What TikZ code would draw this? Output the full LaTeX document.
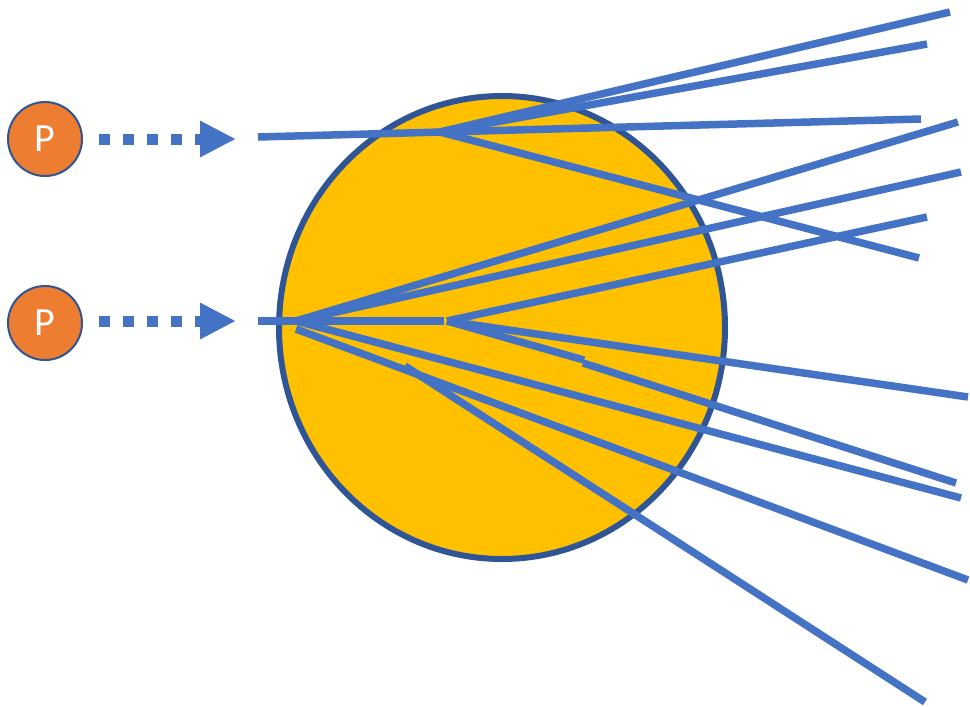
\documentclass[tikz,border=0pt]{standalone}
\usepackage{fontspec}
\setmainfont{Carlito}
\usetikzlibrary{arrows.meta}
\definecolor{rayblue}{HTML}{4472C4}
\definecolor{darkedge}{HTML}{2F5597}
\definecolor{porange}{HTML}{ED7D31}
\definecolor{nucleus}{HTML}{FFC000}
\tikzset{
  ray/.style={draw=rayblue, line width=7.5pt},
  proton/.style={circle, fill=porange, draw=darkedge, line width=2pt, minimum size=74pt, inner sep=0pt, text=white, font=\fontsize{40}{40}\selectfont},
  beam/.style={draw=rayblue, line width=11pt, dash pattern=on 11pt off 13pt, -{Triangle[length=36pt,width=34pt]}, shorten <=16pt},
}
\begin{document}
\begin{tikzpicture}[x=1pt,y=-1pt]
\useasboundingbox (0,0) rectangle (970,707);
% nucleus
\draw[fill=nucleus, draw=darkedge, line width=6pt] (502,327.5) ellipse [x radius=223, y radius=231.5];
% protons and beams
\node[proton] (p1) at (45,139) {P};
\node[proton] (p2) at (45,323) {P};
\coordinate (a1) at (236,139);
\coordinate (a2) at (236,321);
\draw[beam] (p1.east |- a1) -- (a1);
\draw[beam] (p2.east |- a2) -- (a2);
% top event
\coordinate (s1) at (258,137);
\coordinate (b1) at (440,132);
\coordinate (e1) at (921,119);
\coordinate (e2) at (950,12);
\coordinate (e3) at (927,44);
\coordinate (e4) at (919,258);
\draw[ray] (s1) -- (e1);
\draw[ray] (b1) -- (e2);
\draw[ray] (b1) -- (e3);
\draw[ray] (b1) -- (e4);
% lower event
\coordinate (s2) at (258,321);
\coordinate (b2) at (296,321);
\coordinate (b2b) at (296,329);
\coordinate (b3) at (444,321);
\coordinate (b4) at (447,321);
\coordinate (b5) at (405,366);
\coordinate (k1) at (584,360);
\coordinate (k2) at (583,363);
\coordinate (f1) at (958,122);
\coordinate (f2) at (961,172);
\coordinate (f3) at (927,217);
\coordinate (f4) at (968,397);
\coordinate (f5) at (956,483);
\coordinate (f6) at (961,498);
\coordinate (f7) at (968,580);
\coordinate (f8) at (925,702);
\draw[ray] (s2) -- (b3);
\draw[ray] (b2) -- (f1);
\draw[ray] (b2) -- (f2);
\draw[ray] (b2) -- (f6);
\draw[ray] (b2b) -- (f7);
\draw[ray] (b5) -- (f8);
\draw[ray] (b4) -- (f3);
\draw[ray] (b4) -- (f4);
\draw[ray] (b4) -- (k1);
\draw[ray] (k2) -- (f5);
\end{tikzpicture}
\end{document}
